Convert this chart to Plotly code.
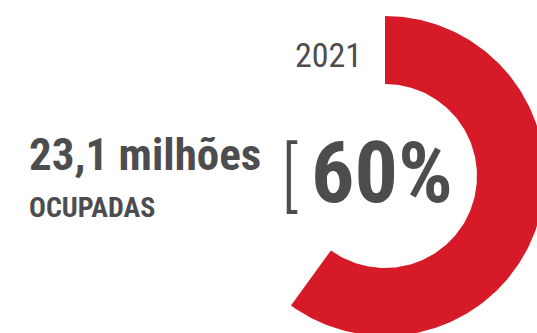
import numpy as np
import plotly.graph_objects as go

# data
year = "2021"
headline = "23,1 milhões"
sublabel = "OCUPADAS"
share_pct = 60          # occupied share, drawn as the red ring
share_label = "60%"

# ring geometry in pixel-like axis units (axes span the whole 537x333 canvas)
W, H = 537, 333
cx, cy = 385, 176
r_out, r_in = 160, 92
red = "#d71a27"
grey = "#4d4d4f"

# ring segment: clockwise from 12 o'clock through share_pct of a full turn
theta = np.radians(np.linspace(0, share_pct / 100 * 360, 200))
xs = np.concatenate([cx + r_out * np.sin(theta), cx + r_in * np.sin(theta[::-1])])
ys = np.concatenate([cy - r_out * np.cos(theta), cy - r_in * np.cos(theta[::-1])])

fig = go.Figure()
fig.add_trace(
    go.Scatter(
        x=xs.tolist(),
        y=ys.tolist(),
        mode="lines",
        fill="toself",
        fillcolor=red,
        line={"width": 0, "color": red},
        hoverinfo="skip",
        showlegend=False,
    )
)

cond = "Roboto Condensed"
fig.add_annotation(x=328, y=55, text=year, showarrow=False, xanchor="center", yanchor="middle",
                   font={"family": cond, "size": 34, "color": grey})
fig.add_annotation(x=27, y=154, text=headline, showarrow=False, xanchor="left", yanchor="middle",
                   font={"family": cond, "size": 45, "color": grey, "weight": "bold"})
fig.add_annotation(x=27, y=207, text=sublabel, showarrow=False, xanchor="left", yanchor="middle",
                   font={"family": cond, "size": 28, "color": grey, "weight": "bold"})
fig.add_annotation(x=289, y=176, text="[", showarrow=False, xanchor="center", yanchor="middle",
                   font={"family": cond, "size": 76, "color": grey, "weight": 300})
fig.add_annotation(x=309, y=172, text=share_label, showarrow=False, xanchor="left", yanchor="middle",
                   font={"family": cond, "size": 86, "color": grey, "weight": "bold"})

fig.update_layout(
    width=W,
    height=H,
    margin={"l": 0, "r": 0, "t": 0, "b": 0},
    paper_bgcolor="white",
    plot_bgcolor="white",
    xaxis={"range": [0, W], "visible": False, "fixedrange": True},
    yaxis={"range": [H, 0], "visible": False, "fixedrange": True},
)
# drop the browser's default body margin so the figure sits flush in the window
fig.write_html(
    "out.html",
    config={"displayModeBar": False, "staticPlot": True},
    post_script="document.body.style.margin='0';document.body.style.overflow='hidden';",
)
